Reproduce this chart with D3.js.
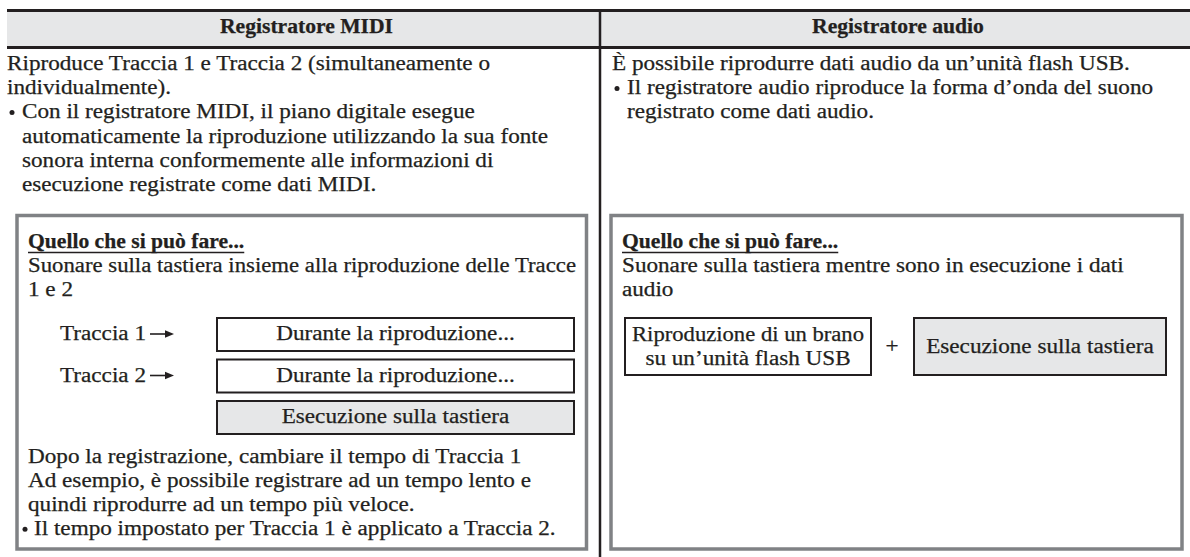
<!DOCTYPE html>
<html>
<head>
<meta charset="utf-8">
<script src="https://cdn.jsdelivr.net/npm/d3@7"></script>
<style>
  html, body { margin: 0; padding: 0; background: #fff; }
  svg { display: block; }
  text { font-family: "Liberation Serif", "DejaVu Serif", serif; fill: #231f20; stroke: #231f20; stroke-width: 0.25; }
</style>
</head>
<body>
<svg id="chart" width="1190" height="557"></svg>
<script>
// ---------------- data ----------------
const columns = ["Registratore MIDI", "Registratore audio"];

const introMidi = [
  { t: "Riproduce Traccia 1 e Traccia 2 (simultaneamente o", bullet: false, indent: false },
  { t: "individualmente).", bullet: false, indent: false },
  { t: "Con il registratore MIDI, il piano digitale esegue", bullet: true, indent: true },
  { t: "automaticamente la riproduzione utilizzando la sua fonte", bullet: false, indent: true },
  { t: "sonora interna conformemente alle informazioni di", bullet: false, indent: true },
  { t: "esecuzione registrate come dati MIDI.", bullet: false, indent: true }
];

const introAudio = [
  { t: "È possibile riprodurre dati audio da un’unità flash USB.", bullet: false, indent: false },
  { t: "Il registratore audio riproduce la forma d’onda del suono", bullet: true, indent: true },
  { t: "registrato come dati audio.", bullet: false, indent: true }
];

const sectionTitle = "Quello che si può fare...";

const midiCanDo = ["Suonare sulla tastiera insieme alla riproduzione delle Tracce", "1 e 2"];
const tracks = ["Traccia 1", "Traccia 2"];
const trackBoxes = [
  { t: "Durante la riproduzione...", shaded: false },
  { t: "Durante la riproduzione...", shaded: false },
  { t: "Esecuzione sulla tastiera", shaded: true }
];
const midiNotes = [
  { t: "Dopo la registrazione, cambiare il tempo di Traccia 1", bullet: false },
  { t: "Ad esempio, è possibile registrare ad un tempo lento e", bullet: false },
  { t: "quindi riprodurre ad un tempo più veloce.", bullet: false },
  { t: "Il tempo impostato per Traccia 1 è applicato a Traccia 2.", bullet: true }
];

const audioCanDo = ["Suonare sulla tastiera mentre sono in esecuzione i dati", "audio"];
const audioBoxes = [
  { lines: ["Riproduzione di un brano", "su un’unità flash USB"], shaded: false },
  { lines: ["Esecuzione sulla tastiera"], shaded: true }
];
const joiner = "+";

// ---------------- setup ----------------
const W = 1190, H = 557;
const INK = "#231f20", SHADE = "#e6e7e8", FRAME = "#808285";
const FS = 20;
const svg = d3.select("#chart");
svg.append("rect").attr("width", W).attr("height", H).attr("fill", "#fff");

function measure(s, bold) {
  const p = svg.append("text").attr("font-size", FS).attr("font-weight", bold ? "bold" : null).text(s);
  const w = p.node().getComputedTextLength();
  p.remove();
  return w;
}
// horizontal stretch factors approximating the wider book face of the original
const K = 483 / measure(introMidi[0].t, false);
const KB = 173 / measure(columns[0], true);

function label(g, s, x, y, opt = {}) {
  const t = g.append("text")
    .attr("x", x).attr("y", y)
    .attr("font-size", FS)
    .attr("font-weight", opt.bold ? "bold" : null)
    .attr("text-anchor", opt.anchor || "start")
    .text(s);
  let w = t.node().getComputedTextLength() * (opt.bold ? KB : K);
  if (opt.maxW) w = Math.min(w, opt.maxW);
  t.attr("textLength", w).attr("lengthAdjust", "spacingAndGlyphs");
  return w;
}
function bulletDot(g, x, y) {
  g.append("circle").attr("cx", x).attr("cy", y - 5.8).attr("r", 2.5).attr("fill", INK);
}

// column scale
const colX = d3.scaleOrdinal().domain(columns).range([7, 600]);
const colW = d3.scaleOrdinal().domain(columns).range([593, 590]);

// row scales
const introY = d3.scaleLinear().domain([0, 1]).range([70, 94.2]);
const boxTextY = d3.scaleLinear().domain([0, 1]).range([248, 272]);
const trackY = d3.scaleLinear().domain([0, 1]).range([318, 359.5]);
const notesY = d3.scaleLinear().domain([0, 1]).range([463, 487]);

// ---------------- header ----------------
const head = svg.append("g");
head.append("rect").attr("x", 7).attr("y", 12).attr("width", W - 7).attr("height", 34).attr("fill", SHADE);
head.append("line").attr("x1", 7).attr("x2", W).attr("y1", 10.5).attr("y2", 10.5)
  .attr("stroke", INK).attr("stroke-width", 3);
head.append("line").attr("x1", 7).attr("x2", W).attr("y1", 47.5).attr("y2", 47.5)
  .attr("stroke", INK).attr("stroke-width", 3);
columns.forEach(c => {
  label(head, c, colX(c) + colW(c) / 2 + 3, 33, { bold: true, anchor: "middle" });
});
// divider
svg.append("line").attr("x1", 600).attr("x2", 600).attr("y1", 9).attr("y2", H)
  .attr("stroke", INK).attr("stroke-width", 2.5);

// ---------------- intro text ----------------
const intro = svg.append("g");
function drawIntro(lines, x0) {
  lines.forEach((d, i) => {
    const y = introY(i);
    if (d.bullet) bulletDot(intro, x0 + 5, y);
    label(intro, d.t, d.indent ? x0 + 15 : x0, y);
  });
}
drawIntro(introMidi, 7);
drawIntro(introAudio, 612);

// ---------------- framed boxes ----------------
const frames = [
  { col: columns[0], x: 17, w: 569.5 },
  { col: columns[1], x: 611, w: 571 }
];
frames.forEach(f => {
  svg.append("rect").attr("x", f.x).attr("y", 215.5).attr("width", f.w).attr("height", 333.5)
    .attr("fill", "none").attr("stroke", FRAME).attr("stroke-width", 3.5);
});

function sectionHead(g, x) {
  const w = label(g, sectionTitle, x, boxTextY(0), { bold: true });
  g.append("line").attr("x1", x).attr("x2", x + w).attr("y1", boxTextY(0) + 4.5).attr("y2", boxTextY(0) + 4.5)
    .attr("stroke", INK).attr("stroke-width", 1.6);
}

// left (MIDI) box
const gl = svg.append("g");
sectionHead(gl, 28);
midiCanDo.forEach((s, i) => label(gl, s, 28, boxTextY(i + 1), { maxW: 548 }));
tracks.forEach((s, i) => {
  const y = trackY(i) + 22;
  label(gl, s, 60, y);
  const ay = y - 6;
  gl.append("line").attr("x1", 150).attr("x2", 167).attr("y1", ay).attr("y2", ay)
    .attr("stroke", INK).attr("stroke-width", 1.6);
  gl.append("path").attr("d", d3.line()([[165, ay - 3.8], [174, ay], [165, ay + 3.8]]) + "Z").attr("fill", INK);
});
trackBoxes.forEach((d, i) => {
  const y = trackY(i);
  gl.append("rect").attr("x", 217).attr("y", y).attr("width", 357).attr("height", 33)
    .attr("fill", d.shaded ? SHADE : "#fff").attr("stroke", INK).attr("stroke-width", 2);
  label(gl, d.t, 395.5, y + 22, { anchor: "middle" });
});
midiNotes.forEach((d, i) => {
  const y = notesY(i);
  if (d.bullet) { bulletDot(gl, 25, y); label(gl, d.t, 34, y, { maxW: 541 }); }
  else label(gl, d.t, 28, y);
});

// right (audio) box
const gr = svg.append("g");
sectionHead(gr, 622);
audioCanDo.forEach((s, i) => label(gr, s, 622, boxTextY(i + 1)));
const abX = d3.scaleOrdinal().domain([0, 1]).range([625, 914]);
const abW = d3.scaleOrdinal().domain([0, 1]).range([246, 252]);
audioBoxes.forEach((d, i) => {
  gr.append("rect").attr("x", abX(i)).attr("y", 318).attr("width", abW(i)).attr("height", 57)
    .attr("fill", d.shaded ? SHADE : "#fff").attr("stroke", INK).attr("stroke-width", 2);
  const cx = abX(i) + abW(i) / 2;
  const n = d.lines.length;
  d.lines.forEach((s, j) => {
    const y = 346.5 + (j - (n - 1) / 2) * 24 + 6;
    label(gr, s, cx, y, { anchor: "middle", maxW: abW(i) - 14 });
  });
});
label(gr, joiner, 892, 353, { anchor: "middle" });
</script>
</body>
</html>
